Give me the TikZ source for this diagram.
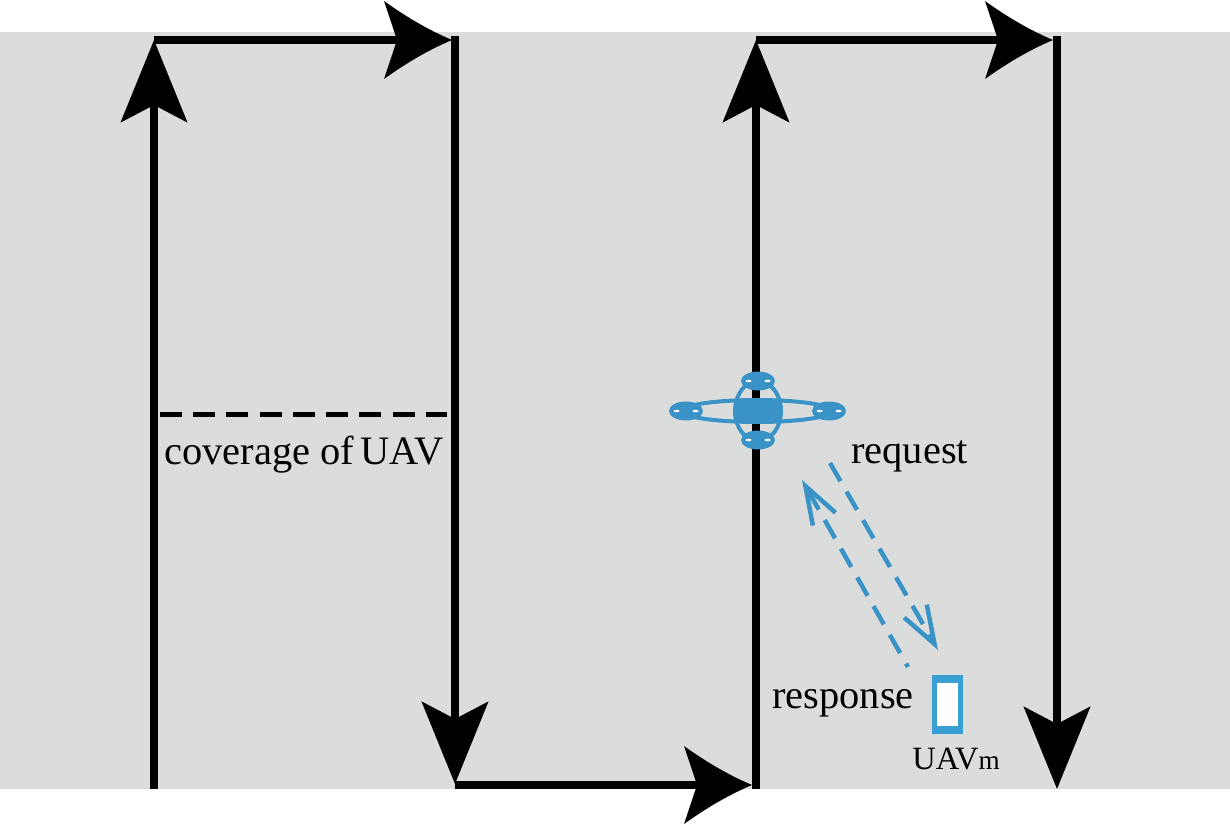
\documentclass[tikz,border=0pt]{standalone}
\usepackage{fontspec}
\usepackage{tikz}
\usetikzlibrary{arrows.meta,shapes.geometric}
\setmainfont{Liberation Serif}

\definecolor{fieldgray}{HTML}{DBDDDC}
\definecolor{uavblue}{HTML}{3A93C6}
\definecolor{boxblue}{HTML}{3A9FD3}

\pgfdeclarearrow{
	name=FlightTip,
	setup code={
		\pgfarrowssettipend{0pt}
		\pgfarrowssetbackend{-1.36cm}
		\pgfarrowssetlineend{-1.05cm}
	},
	drawing code={
		\pgfpathmoveto{\pgfpoint{0cm}{0cm}}
		\pgfpathcurveto{\pgfpoint{-.45cm}{.19cm}}{\pgfpoint{-.9cm}{.45cm}}{\pgfpoint{-1.36cm}{.78cm}}
		\pgfpathlineto{\pgfpoint{-1.1cm}{0cm}}
		\pgfpathlineto{\pgfpoint{-1.36cm}{-.78cm}}
		\pgfpathcurveto{\pgfpoint{-.9cm}{-.45cm}}{\pgfpoint{-.45cm}{-.19cm}}{\pgfpoint{0cm}{0cm}}
		\pgfpathclose
		\pgfusepathqfill
	},
}

\tikzset{
	legvert/.style={line width=.16cm,-{Stealth[length=1.64cm,width=1.32cm,inset=.34cm]}},
	leghorz/.style={line width=.16cm,-FlightTip},
	coverage/.style={line width=.09cm,dash pattern=on .44cm off .225cm},
	link/.style={uavblue,line width=.09cm,dash pattern=on .42cm off .24cm,-{Straight Barb[length=.76cm,width=.52cm]}},
	textlabel/.style={anchor=base west,inner sep=0pt,font=\fontsize{23}{27}\selectfont},
	rotor/.style={shape=ellipse,fill=uavblue,inner sep=0pt,minimum width=.68cm,minimum height=.38cm},
	frame/.style={shape=ellipse,draw=uavblue,line width=.08cm,inner sep=0pt},
	spot/.style={shape=ellipse,fill=white,inner sep=0pt,minimum width=.12cm,minimum height=.05cm},
}

\begin{document}
\begin{tikzpicture}[x=.02cm,y=-.02cm]
	
	\useasboundingbox (0,0) rectangle (1230,837);
	\fill[fieldgray] (0,32) rectangle (1230,789);
	
	\coordinate (p0) at (154, 789);
	\coordinate (p1) at (154, 40);
	\coordinate (p2) at (452, 40);
	\coordinate (p3) at (455, 36);
	\coordinate (p4) at (455, 784);
	\coordinate (p5) at (455, 785);
	\coordinate (p6) at (752, 785);
	\coordinate (p7) at (756, 789);
	\coordinate (p8) at (756, 40);
	\coordinate (p9) at (1053, 40);
	\coordinate (p10) at (1057, 36);
	\coordinate (p11) at (1057, 789);
	
	\path[legvert] (p0) edge (p1);
	\path[leghorz] (p1) edge (p2);
	\path[legvert] (p3) edge (p4);
	\path[leghorz] (p5) edge (p6);
	\path[legvert] (p7) edge (p8);
	\path[leghorz] (p8) edge (p9);
	\path[legvert] (p10) edge (p11);
	
	\coordinate (covl) at (160, 414.5);
	\coordinate (covr) at (447, 414.5);
	\path[coverage] (covl) edge (covr);
	\node[textlabel] (covtext) at (164, 464) {coverage of\kern-.08em{} UAV};
	
	% drone
	\node[frame,minimum width=3cm,minimum height=.44cm] (armh) at (757, 411) {};
	\node[frame,minimum width=.92cm,minimum height=1.2cm] (armv) at (758, 411) {};
	\fill[uavblue] (735,400) rectangle (782,422);
	\node[rotor] (rotl) at (686, 411) {};
	\node[rotor] (rotr) at (829, 411) {};
	\node[rotor] (rott) at (758, 381) {};
	\node[rotor] (rotb) at (758, 440) {};
	\foreach \r in {rotl,rotr,rott,rotb} {
		\node[spot] (\r a) at ([xshift=-.19cm]\r) {};
		\node[spot] (\r b) at ([xshift=.19cm]\r) {};
	}
	
	\coordinate (reqs) at (830, 463);
	\coordinate (reqe) at (938, 650);
	\coordinate (ress) at (908, 667);
	\coordinate (rese) at (802, 480);
	\path[link] (reqs) edge (reqe);
	\path[link,dash phase=.34cm] (ress) edge (rese);
	
	\node[textlabel] (reqtext) at (851, 463) {request};
	\node[textlabel] (restext) at (772, 708) {response};
	
	\node[shape=rectangle,fill=boxblue,inner sep=0pt,minimum width=.62cm,minimum height=1.18cm] (uavm) at (947.5, 704.5) {};
	\node[shape=rectangle,fill=white,inner sep=0pt,minimum width=.42cm,minimum height=.86cm] (uavmin) at (uavm) {};
	\node[textlabel,font=\fontsize{18.5}{22}\selectfont] (uavmtext) at (912, 769) {UAV{\fontsize{15.5}{18}\selectfont m}};
	
\end{tikzpicture}
\end{document}
